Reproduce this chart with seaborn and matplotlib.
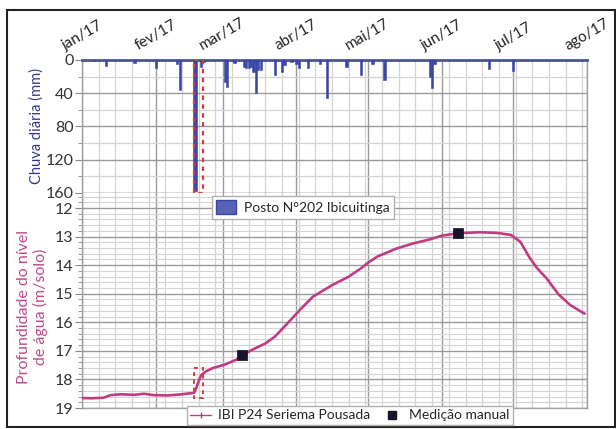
import matplotlib
matplotlib.use('Agg')
import matplotlib.pyplot as plt
import matplotlib.dates as mdates
from matplotlib.patches import Rectangle, Patch
from matplotlib.lines import Line2D
from matplotlib.ticker import MultipleLocator, FixedLocator, NullFormatter
import seaborn as sns
import pandas as pd

# ---------------- data ----------------
month_ticks = ['2017-01-01', '2017-02-01', '2017-03-01', '2017-04-01',
               '2017-05-01', '2017-06-01', '2017-07-01', '2017-08-01']
month_labels = ['jan/17', 'fev/17', 'mar/17', 'abr/17', 'mai/17', 'jun/17', 'jul/17', 'ago/17']

rain_dates = ['2017-01-06', '2017-01-11', '2017-01-23', '2017-02-01', '2017-02-10', '2017-02-11',
              '2017-02-17', '2017-02-18', '2017-02-20', '2017-02-21', '2017-03-02', '2017-03-03',
              '2017-03-06', '2017-03-10', '2017-03-11', '2017-03-12', '2017-03-13', '2017-03-14',
              '2017-03-15', '2017-03-16', '2017-03-17', '2017-03-23', '2017-03-26', '2017-03-27',
              '2017-03-30', '2017-04-01', '2017-04-02', '2017-04-06', '2017-04-11', '2017-04-14',
              '2017-04-22', '2017-04-28', '2017-05-03', '2017-05-08', '2017-05-27', '2017-05-28',
              '2017-05-29', '2017-06-21', '2017-07-01']
rain_mm = [1, 7, 4, 10, 5, 36,
           158, 158, 8, 2, 26, 32,
           4, 8, 10, 10, 8, 15,
           40, 12, 12, 18, 14, 6,
           2, 5, 10, 10, 5, 46,
           9, 18, 5, 24, 20, 34,
           5, 11, 13]

level_dates = ['2017-01-01', '2017-01-05', '2017-01-10', '2017-01-13', '2017-01-17', '2017-01-23',
               '2017-01-27', '2017-01-31', '2017-02-06', '2017-02-12', '2017-02-16', '2017-02-17',
               '2017-02-18', '2017-02-19', '2017-02-20', '2017-02-22', '2017-02-25', '2017-03-02',
               '2017-03-07', '2017-03-09', '2017-03-13', '2017-03-19', '2017-03-23', '2017-03-27',
               '2017-03-30', '2017-04-03', '2017-04-08', '2017-04-16', '2017-04-23', '2017-04-28',
               '2017-05-01', '2017-05-05', '2017-05-13', '2017-05-20', '2017-05-27', '2017-06-01',
               '2017-06-08', '2017-06-17', '2017-06-24', '2017-06-30', '2017-07-04', '2017-07-08',
               '2017-07-11', '2017-07-15', '2017-07-20', '2017-07-25', '2017-07-31']
level_m = [18.65, 18.66, 18.64, 18.55, 18.52, 18.54,
           18.50, 18.55, 18.56, 18.52, 18.48, 18.47,
           18.30, 18.05, 17.85, 17.72, 17.60, 17.48,
           17.30, 17.18, 16.98, 16.74, 16.50, 16.15,
           15.88, 15.52, 15.10, 14.70, 14.40, 14.12,
           13.92, 13.70, 13.42, 13.24, 13.10, 12.97,
           12.88, 12.85, 12.87, 12.94, 13.18, 13.75,
           14.10, 14.46, 15.02, 15.40, 15.70]

manual_dates = ['2017-03-09', '2017-06-08']
manual_m = [17.15, 12.87]

highlight_start = '2017-02-16 22:00'
highlight_end = '2017-02-20 18:00'
highlight_level = [17.6, 18.65]

# ---------------- style ----------------
sns.set_theme(style='white')
plt.rcParams['font.family'] = ['Lato', 'DejaVu Sans']

blue = '#3a46a6'
pink = '#c23b82'
grid_minor = '#d4d4d4'
grid_major = '#9a9a9a'
txt = '#333333'

fig = plt.figure(figsize=(6.16, 4.29), dpi=100)
ax1 = fig.add_axes([82/616, 1-193/429, 505/616, 133/429])
ax2 = fig.add_axes([82/616, 1-408/429, 505/616, 215/429])

xmin = pd.Timestamp(month_ticks[0])
xmax = pd.Timestamp(month_ticks[-1])
mt = [mdates.date2num(pd.Timestamp(d)) for d in month_ticks]

for ax in (ax1, ax2):
    ax.set_xlim(xmin, xmax)
    ax.xaxis.set_major_locator(FixedLocator(mt))
    ax.xaxis.set_minor_locator(mdates.WeekdayLocator(byweekday=mdates.SU))
    ax.grid(which='major', axis='x', color=grid_major, lw=1.0)
    ax.grid(which='minor', axis='x', color=grid_minor, lw=0.9)
    ax.set_axisbelow(True)
    for s in ax.spines.values():
        s.set_color('#a0a0a0')
        s.set_linewidth(1.0)
    ax.tick_params(axis='y', which='major', direction='out', length=5, width=0.8,
                   color='#888888', left=True, labelsize=11.5, labelcolor=txt, pad=1)
    ax.tick_params(axis='y', which='minor', direction='out', length=3, width=0.6,
                   color='#888888', left=True)

# ---- top panel: rain ----
rain_df = pd.DataFrame({'date': pd.to_datetime(rain_dates), 'mm': rain_mm})
ax1.bar(rain_df['date'], rain_df['mm'], width=0.95, color=blue, edgecolor=blue, lw=0.4, zorder=3)
ax1.set_ylim(160, 0)
ax1.yaxis.set_major_locator(MultipleLocator(40))
ax1.yaxis.set_minor_locator(MultipleLocator(20))
ax1.grid(which='major', axis='y', color=grid_major, lw=1.0)
ax1.grid(which='minor', axis='y', color=grid_minor, lw=0.9)
ax1.spines['top'].set_color('#4a5690')
ax1.spines['top'].set_linewidth(2.0)
ax1.xaxis.tick_top()
ax1.set_xticklabels(month_labels, rotation=30, ha='center', va='bottom',
                    fontsize=11, color='#222222')
ax1.tick_params(axis='x', which='both', length=0, pad=5, top=True, bottom=False)
ax1.set_ylabel('Chuva diária (mm)', color='#2e3a8c', fontsize=10.5)
ax1.yaxis.set_label_coords(-0.075, 0.5)

hs = mdates.date2num(pd.Timestamp(highlight_start))
he = mdates.date2num(pd.Timestamp(highlight_end))
ax1.add_patch(Rectangle((hs, 0), he - hs, 160, fill=False, edgecolor='#d0403a',
                        ls=(0, (2, 2)), lw=1.6, zorder=4))

# ---- bottom panel: water level ----
lvl_df = pd.DataFrame({'date': pd.to_datetime(level_dates), 'level': level_m})
man_df = pd.DataFrame({'date': pd.to_datetime(manual_dates), 'level': manual_m})
sns.lineplot(data=lvl_df, x='date', y='level', ax=ax2, color=pink, lw=1.9, zorder=3)
sns.scatterplot(data=man_df, x='date', y='level', ax=ax2, marker='s', s=45,
                color='#17132a', edgecolor='#17132a', zorder=5)
ax2.set_ylim(19, 11.475)
ax2.yaxis.set_major_locator(FixedLocator([12, 13, 14, 15, 16, 17, 18, 19]))
ax2.yaxis.set_minor_locator(MultipleLocator(0.2))
ax2.grid(which='major', axis='y', color=grid_major, lw=1.0)
ax2.grid(which='minor', axis='y', color=grid_minor, lw=0.8)
ax2.spines['top'].set_visible(False)
ax2.xaxis.set_major_formatter(NullFormatter())
ax2.tick_params(axis='x', which='both', length=0, bottom=False, labelbottom=False)
ax2.set_xlabel('')
ax2.set_ylabel('Profundidade do nível\nde água (m/solo)', color='#c04a88', fontsize=11.5,
               linespacing=1.1)
ax2.yaxis.set_label_coords(-0.068, 0.47)
ax2.add_patch(Rectangle((hs, highlight_level[0]), he - hs, highlight_level[1] - highlight_level[0],
                        fill=False, edgecolor='#d0403a', ls=(0, (2, 2)), lw=1.4, zorder=4))

# ---- legends ----
fig.legend(handles=[Patch(facecolor='#5a62b8', edgecolor='#3a46a6', label='Posto N°202 Ibicuitinga')],
           loc='upper left', bbox_to_anchor=(212/616, 1-196/429), frameon=True, fancybox=False,
           edgecolor='#b0b0b0', framealpha=1, fontsize=10, borderaxespad=0, handlelength=1.4,
           handleheight=1.2, borderpad=0.3, handletextpad=0.6)
fig.legend(handles=[Line2D([0], [0], color=pink, lw=1, marker='|', ms=4,
                           label='IBI P24 Seriema Pousada'),
                    Line2D([0], [0], color='#17132a', lw=0, marker='s', ms=6,
                           label='Medição manual')],
           loc='upper left', bbox_to_anchor=(187/616, 1-406/429), ncol=2, frameon=True,
           fancybox=False, edgecolor='#b0b0b0', framealpha=1, fontsize=10, borderaxespad=0,
           handlelength=1.5, borderpad=0.25, columnspacing=0.8, handletextpad=0.5)

fig.add_artist(Rectangle((7/616, 1-427/429), 608/616, 417/429, transform=fig.transFigure,
                         fill=False, edgecolor='#222222', lw=1.5))

fig.savefig('out.png', dpi=100)
